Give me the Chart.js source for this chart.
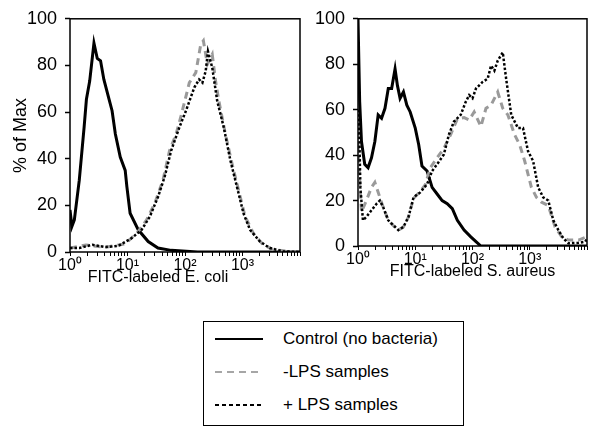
<!DOCTYPE html>
<html>
<head>
<meta charset="utf-8">
<script src="https://cdn.jsdelivr.net/npm/chart.js@4.4.0/dist/chart.umd.min.js"></script>
<style>
  body { margin: 0; background: #fff; width: 602px; height: 435px; overflow: hidden; position: relative;
         font-family: "Liberation Sans", Arial, sans-serif; color: #000; }
  #leftChart { position: absolute; left: 0; top: 0; }
  #rightChart { position: absolute; left: 300px; top: 0; }
  #legend { position: absolute; left: 203px; top: 321px; width: 259px; height: 103px; border: 1.5px solid #000; }
  .row { position: absolute; left: 0; width: 259px; height: 20px; font-size: 17px; line-height: 20px; }
  .row svg { position: absolute; left: 11px; top: 8px; }
  .row span { position: absolute; left: 79px; top: 0; white-space: nowrap; }
</style>
</head>
<body>
<canvas id="leftChart" width="305" height="300"></canvas>
<canvas id="rightChart" width="302" height="300"></canvas>
<div id="legend">
  <div class="row" style="top:7px"><svg width="48" height="4"><line x1="0" y1="2" x2="48" y2="2" stroke="#000" stroke-width="2"/></svg><span>Control (no bacteria)</span></div>
  <div class="row" style="top:40px"><svg width="48" height="4"><line x1="0" y1="2" x2="48" y2="2" stroke="#a6a6a6" stroke-width="2" stroke-dasharray="7,5"/></svg><span>-LPS samples</span></div>
  <div class="row" style="top:73px"><svg width="48" height="4"><line x1="0" y1="2" x2="48" y2="2" stroke="#000" stroke-width="2" stroke-dasharray="4,3"/></svg><span>+ LPS samples</span></div>
</div>
<script>
// tick values / labels
const decades = [1, 10, 100, 1000, 10000];
const decadeLabels = { 1: "10\u2070", 10: "10\u00b9", 100: "10\u00b2", 1000: "10\u00b3" };
const yTicks = [0, 20, 40, 60, 80, 100];

// E. coli panel (fluorescence, % of max)
const ecoliCtrlX = [1, 1.08, 1.19, 1.45, 1.76, 1.93, 2.2, 2.61, 2.98, 3.4, 3.88, 4.72, 5.39, 6.15, 7.48, 9.12, 9.75, 11.1, 15.4, 22.9, 33.9, 57.5, 165, 10000];
const ecoliCtrlY = [18, 11, 13.8, 30.8, 53.5, 65.5, 73.3, 89.6, 83, 82, 74, 66, 60.6, 50.6, 40.7, 35, 28, 16.6, 9.5, 4.5, 1.7, 0.7, 0, 0];

const ecoliMinusX = [1, 1.88, 4.14, 9.12, 15.4, 21.5, 29.8, 41.4, 53.9, 70.1, 85.4, 119, 154, 188, 209, 245, 298, 340, 388, 504, 657, 854, 1111, 1544, 2291, 3398, 8200, 10000];
const ecoliMinusY = [1.7, 3, 2, 3.5, 8.8, 13.8, 20.9, 30.8, 43.5, 50.6, 58.4, 72.6, 76.9, 89, 90.6, 80.5, 84.7, 73.3, 64.8, 50.6, 37.9, 26.5, 15.2, 8, 3.1, 1, 0, 0];

const ecoliPlusX = [1, 1.45, 2.45, 4.14, 7.01, 11.9, 17.6, 24.5, 34, 44.2, 57.5, 80, 104, 145, 176, 201, 229, 251, 298, 363, 472, 615, 800, 1040, 1353, 2009, 2980, 5044, 10000];
const ecoliPlusY = [1.7, 1.7, 3.1, 2.1, 2.7, 6, 9.5, 15.2, 23.7, 32.2, 43.5, 53.5, 60.6, 70.5, 74, 72.6, 77.6, 86, 79, 64.8, 53.5, 39.3, 28, 16.6, 9.5, 4.5, 1.7, 0.3, 0];

// S. aureus panel
const saurCtrlX = [1, 1.03, 1.07, 1.15, 1.31, 1.5, 1.72, 1.97, 2.25, 2.58, 2.96, 3.38, 3.87, 4.44, 4.88, 5.43, 6.22, 7.13, 8.16, 10, 11.5, 13.1, 16.1, 19.7, 24.1, 29.5, 36.2, 44.4, 54.4, 71.3, 93.4, 115, 140, 10000];
const saurCtrlY = [100, 100, 63.5, 46, 36, 34.5, 38.8, 46, 57.7, 56.2, 60.6, 69.3, 69.3, 78, 70.7, 65, 67.8, 62, 59, 51.9, 44.6, 35.2, 33, 25.8, 22.9, 20, 18.6, 16.4, 11.3, 7, 4, 1.9, 0, 0];

const saurMinusX = [1, 1.04, 1.15, 1.4, 1.72, 1.97, 2.41, 2.76, 3.38, 4.15, 5.08, 6.22, 7.62, 9.35, 12.2, 15, 18.4, 24.1, 31.6, 41.5, 54.4, 71.3, 87.4, 107, 140, 172, 211, 276, 338, 415, 543, 666, 816, 1069, 1312, 1607, 2108, 2762, 3621, 4746, 7129, 9350, 10000];
const saurMinusY = [45, 35, 15, 20, 25.8, 28, 21.4, 17, 11.3, 9, 7, 8.4, 12.8, 21, 24, 27, 34.5, 38.8, 43, 49, 56, 56.5, 55.5, 59, 52.6, 60.6, 62, 67.8, 60.6, 57.7, 49, 44.6, 37.4, 25.8, 21.4, 19.3, 17.8, 8.4, 4, 2.6, 2.6, 3.8, 4.8];

const saurPlusX = [1, 1.04, 1.1, 1.22, 1.4, 1.72, 2.11, 2.41, 2.76, 3.38, 4.15, 5.08, 6.22, 7.62, 9.35, 12.2, 16.1, 19.7, 24.1, 31.6, 38.7, 47.5, 62.2, 76.3, 87.4, 100, 115, 150, 184, 211, 241, 276, 338, 387, 475, 622, 762, 935, 1145, 1403, 1719, 2108, 2582, 3162, 3873, 4746, 7129, 9350, 10000];
const saurPlusY = [60, 56, 25.8, 11.3, 12.8, 15.7, 18.6, 20, 17, 11.3, 9.1, 7, 8.4, 12.8, 21.4, 23.6, 27.2, 33, 36, 40.3, 49, 54.8, 57.7, 63.5, 66.4, 65, 69.3, 72.2, 73.6, 79.4, 77.2, 81.6, 85.2, 73.6, 57.7, 51.9, 51.9, 41.7, 37.4, 25.8, 21.4, 20, 11.3, 7, 3.3, 1.2, 1.4, 1.9, 3.3];

const FAMILY = "'Liberation Sans', Arial, sans-serif";
const XTICK_FONT = { family: FAMILY, size: 16 };
const YTICK_FONT = { family: FAMILY, size: 18 };
const TITLE_FONT = { family: FAMILY, size: 16 };
const YTITLE_FONT = { family: FAMILY, size: 18 };

function pts(xs, ys) {
  return xs.map((x, i) => ({ x: x, y: ys[i] }));
}

function series(xs, ys, color, dash, width) {
  return {
    data: pts(xs, ys),
    borderColor: color,
    borderWidth: width,
    borderDash: dash,
    pointRadius: 0,
    tension: 0,
    fill: false
  };
}

const frame = {
  id: 'frame',
  afterDatasetsDraw(chart) {
    const a = chart.chartArea, ctx = chart.ctx;
    ctx.save();
    ctx.strokeStyle = '#000';
    ctx.lineWidth = 1.5;
    ctx.strokeRect(a.left, a.top, a.right - a.left, a.bottom - a.top);
    ctx.restore();
  }
};

function makeChart(canvasId, title, titleAlign, ctrl, minus, plus, yWidth, xHeight, pad) {
  let minorTicks = [];
  decades.forEach(d => { for (let k = 1; k < 10; k++) if (d * k <= 10000) minorTicks.push(d * k); });
  minorTicks = minorTicks.filter((v, i, a) => a.indexOf(v) === i);

  return new Chart(document.getElementById(canvasId), {
    type: 'line',
    data: {
      datasets: [
        series(plus[0], plus[1], '#000', [2.5, 2], 2.5),
        series(minus[0], minus[1], '#9a9a9a', [7, 5], 3),
        series(ctrl[0], ctrl[1], '#000', [], 3)
      ]
    },
    options: {
      responsive: false,
      animation: false,
      layout: { padding: pad },
      plugins: { legend: { display: false }, tooltip: { enabled: false } },
      scales: {
        x: {
          type: 'logarithmic',
          min: 1,
          max: 10000,
          afterFit: s => { s.height = xHeight; },
          afterBuildTicks: s => { s.ticks = minorTicks.map(v => ({ value: v, major: decades.includes(v) })); },
          ticks: {
            autoSkip: false, maxRotation: 0, color: '#000', font: XTICK_FONT, padding: 0,
            callback: v => decadeLabels[v] || ''
          },
          grid: { drawOnChartArea: false, tickLength: 4, color: '#000', tickWidth: 1 },
          border: { display: false },
          title: { display: true, text: title, align: titleAlign, color: '#000', font: TITLE_FONT, padding: { top: 0, bottom: 4 } }
        },
        y: {
          min: 0,
          max: 100,
          afterFit: s => { s.width = yWidth; },
          afterBuildTicks: s => { s.ticks = yTicks.map(v => ({ value: v })); },
          ticks: { color: '#000', font: YTICK_FONT, padding: 8 },
          grid: { drawOnChartArea: false, tickLength: 5, color: '#000', tickWidth: 1.5 },
          border: { display: false },
          title: { display: yWidth > 60, text: '% of Max', color: '#000', font: YTITLE_FONT, padding: { top: 10, bottom: 0 } }
        }
      }
    },
    plugins: [frame]
  });
}

makeChart('leftChart', '\u00a0\u00a0\u00a0\u00a0FITC-labeled E. coli', 'start',
  [ecoliCtrlX, ecoliCtrlY], [ecoliMinusX, ecoliMinusY], [ecoliPlusX, ecoliPlusY],
  70, 39, { top: 17, right: 5, left: 0, bottom: 9 });

makeChart('rightChart', 'FITC-labeled S. aureus', 'center',
  [saurCtrlX, saurCtrlY], [saurMinusX, saurMinusY], [saurPlusX, saurPlusY],
  58, 39, { top: 16, right: 15, left: 0, bottom: 15 });
</script>
</body>
</html>
